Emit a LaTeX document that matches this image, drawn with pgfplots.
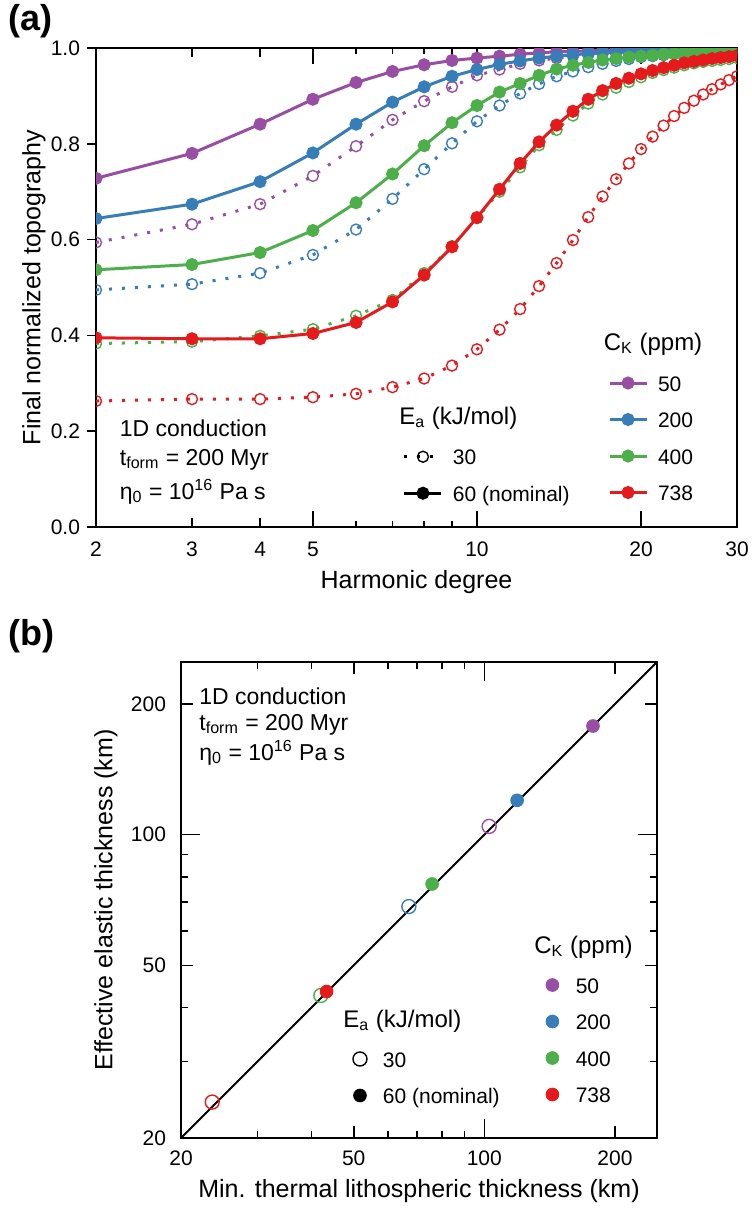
\documentclass[border=0pt]{standalone}
\usepackage{fontspec}
\setmainfont{Liberation Sans}
\usepackage{pgfplots}
\usepackage{pgfplotstable}
\pgfplotsset{compat=1.18}
\definecolor{cpur}{HTML}{984EA3}
\definecolor{cblu}{HTML}{377EB8}
\definecolor{cgrn}{HTML}{4DAF4A}
\definecolor{cred}{HTML}{E41A1C}
\pgfplotsset{
  dotS/.style={line width=1.5pt, dash pattern=on 1.5pt off 5pt, mark=o, mark size=2.75pt, mark options={solid, line width=0.7pt}},
  solS/.style={line width=1.5pt, mark=*, mark size=2.5pt, mark options={solid}},
  legS/.style={draw=none, fill=none, inner sep=0pt, outer sep=0pt, row sep=8.25pt, column sep=5pt, anchor=north west,
     font=\fontsize{10.5}{12}\selectfont, nodes={inner sep=0pt, text height=9pt, text depth=1pt}},
}
\pgfplotstableread{
l p30 p60 b30 b60 g30 g60 r30 r60
2 0.594 0.728 0.495 0.644 0.383 0.537 0.263 0.395
3 0.632 0.780 0.507 0.674 0.387 0.548 0.267 0.393
4 0.674 0.841 0.530 0.721 0.399 0.573 0.267 0.393
5 0.733 0.893 0.568 0.781 0.413 0.619 0.271 0.404
6 0.795 0.928 0.621 0.841 0.441 0.677 0.278 0.427
7 0.850 0.951 0.685 0.887 0.474 0.737 0.292 0.470
8 0.889 0.965 0.747 0.919 0.530 0.796 0.310 0.526
9 0.919 0.974 0.801 0.941 0.586 0.844 0.337 0.585
10 0.943 0.979 0.847 0.955 0.645 0.880 0.371 0.646
11 0.955 0.983 0.880 0.966 0.700 0.908 0.412 0.705
12 0.967 0.987 0.905 0.973 0.751 0.926 0.455 0.759
13 0.974 0.990 0.925 0.979 0.797 0.943 0.503 0.804
14 0.979 0.992 0.941 0.983 0.829 0.956 0.551 0.839
15 0.983 0.993 0.951 0.986 0.859 0.964 0.599 0.868
16 0.986 0.994 0.960 0.988 0.884 0.970 0.647 0.893
17 0.988 0.995 0.967 0.990 0.903 0.975 0.690 0.911
18 0.990 0.996 0.973 0.991 0.917 0.978 0.726 0.926
19 0.991 0.996 0.977 0.992 0.929 0.981 0.759 0.937
20 0.992 0.997 0.981 0.993 0.939 0.983 0.789 0.946
21 0.993 0.997 0.983 0.994 0.948 0.985 0.815 0.953
22 0.994 0.997 0.985 0.995 0.954 0.987 0.838 0.959
23 0.995 0.998 0.987 0.995 0.959 0.988 0.858 0.964
24 0.995 0.998 0.988 0.996 0.964 0.989 0.875 0.969
25 0.996 0.998 0.989 0.996 0.968 0.990 0.890 0.972
26 0.996 0.998 0.990 0.997 0.971 0.991 0.903 0.975
27 0.997 0.999 0.991 0.997 0.973 0.992 0.914 0.978
28 0.997 0.999 0.992 0.997 0.975 0.993 0.924 0.980
29 0.997 0.999 0.993 0.998 0.977 0.993 0.933 0.982
30 0.998 0.999 0.993 0.998 0.979 0.994 0.941 0.984
}\dataA
\begin{document}
\begin{tikzpicture}
\useasboundingbox (0pt,0pt) rectangle (375.5pt,-605.5pt);
% ---------------- panel (a)
\begin{axis}[
  at={(48pt,-263.5pt)}, anchor=south west, scale only axis,
  width=320.5pt, height=239.5pt,
  xmode=log, xmin=2, xmax=30, ymin=0, ymax=1,
  xtick={2,3,4,30}, xticklabels={2,3,4,30},
  extra x ticks={5,10,20}, extra x tick labels={5,10,20},
  extra x tick style={major tick length=8pt},
  minor xtick={6,7,8,9},
  ytick={0,0.2,0.4,0.6,0.8,1}, yticklabels={0.0,0.2,0.4,0.6,0.8,1.0},
  ytick pos=left,
  xtick align=inside, ytick align=outside,
  major tick length=4.5pt, minor tick length=3pt,
  major tick style={black, line width=0.8pt}, minor tick style={black, line width=0.8pt},
  axis line style={line width=1pt},
  tick label style={font=\fontsize{10.5}{12}\selectfont},
  xticklabel style={yshift=-4pt},
  label style={font=\fontsize{12.5}{14}\selectfont},
  xlabel={Harmonic degree}, ylabel={Final normalized topography},
  ylabel style={at={(axis description cs:-0.0967,0.5)}, anchor=center},
  clip marker paths=true,
  legend style={legS, at={(0.7988,0.3215)}},
  legend cell align=left,
  legend image code/.code={\draw[mark repeat=2,mark phase=2,#1] plot coordinates {(0pt,0pt) (9.25pt,0pt) (18.5pt,0pt)};},
]
\addplot[cpur, dotS, forget plot] table[x=l, y=p30] {\dataA};
\addplot[cblu, dotS, forget plot] table[x=l, y=b30] {\dataA};
\addplot[cgrn, dotS, forget plot] table[x=l, y=g30] {\dataA};
\addplot[cred, dotS, forget plot] table[x=l, y=r30] {\dataA};
\addplot[cpur, solS] table[x=l, y=p60] {\dataA};
\addlegendentry{50}
\addplot[cblu, solS] table[x=l, y=b60] {\dataA};
\addlegendentry{200}
\addplot[cgrn, solS] table[x=l, y=g60] {\dataA};
\addlegendentry{400}
\addplot[cred, solS] table[x=l, y=r60] {\dataA};
\addlegendentry{738}
\end{axis}
\begin{axis}[
  at={(48pt,-263.5pt)}, anchor=south west, scale only axis,
  width=320.5pt, height=239.5pt, hide axis,
  xmin=0, xmax=1, ymin=0, ymax=1,
  legend style={legS, at={(0.4789,0.1676)}},
  legend cell align=left,
  legend image code/.code={\draw[mark repeat=2,mark phase=2,#1] plot coordinates {(0pt,0pt) (9.25pt,0pt) (18.5pt,0pt)};},
]
\addlegendimage{black, dotS}
\addlegendentry{30}
\addlegendimage{black, solS}
\addlegendentry{60 (nominal)}
\end{axis}
\node[anchor=north west, inner sep=0pt, font=\bfseries\fontsize{18}{20}\selectfont] at (4pt,-2pt) {(a)};
\node[anchor=base west, inner sep=0pt, font=\fontsize{12}{14}\selectfont] at (301.75pt,-175pt) {C\textsubscript{K} (ppm)};
\node[anchor=base west, inner sep=0pt, font=\fontsize{12}{14}\selectfont] at (199.5pt,-212pt) {E\textsubscript{a} (kJ/mol)};
\node[anchor=base west, inner sep=0pt, font=\fontsize{11.5}{13}\selectfont] at (59.75pt,-218.3pt) {1D conduction};
\node[anchor=base west, inner sep=0pt, font=\fontsize{11.5}{13}\selectfont] at (59.75pt,-232.5pt) {t\textsubscript{form} = 200 Myr};
\node[anchor=base west, inner sep=0pt, font=\fontsize{11.5}{13}\selectfont] at (59.75pt,-249.5pt) {η\textsubscript{0} = 10\textsuperscript{16} Pa s};
% ---------------- panel (b)
\begin{axis}[
  at={(90.5pt,-569pt)}, anchor=south west, scale only axis,
  width=238pt, height=238pt,
  xmode=log, ymode=log, xmin=20, xmax=250, ymin=20, ymax=250,
  xtick={20,50,200}, xticklabels={20,50,200},
  extra x ticks={100}, extra x tick labels={100}, extra x tick style={major tick length=9.5pt},
  ytick={20,50,200}, yticklabels={20,50,200},
  extra y ticks={100}, extra y tick labels={100}, extra y tick style={major tick length=9.5pt},
  minor xtick={30,40,60,70,80,90}, minor ytick={30,40,60,70,80,90},
  tick align=inside, major tick length=6pt, minor tick length=3.5pt,
  major tick style={black, line width=0.8pt}, minor tick style={black, line width=0.8pt},
  axis line style={line width=1pt},
  tick label style={font=\fontsize{10.5}{12}\selectfont},
  xticklabel style={yshift=-3pt}, yticklabel style={xshift=-4pt},
  label style={font=\fontsize{12.5}{14}\selectfont},
  xlabel={Min. thermal lithospheric thickness (km)}, ylabel={Effective elastic thickness (km)},
  ylabel style={at={(axis description cs:-0.1576,0.5)}, anchor=center},
  legend style={legS, column sep=8.5pt, at={(0.7668,0.3424)}},
  legend cell align=left,
  legend image code/.code={\draw[#1] plot coordinates {(0pt,0pt)};},
]
\addplot[black, line width=1pt, forget plot] coordinates {(20,20) (250,250)};
\addplot[cpur, only marks, mark=o, mark size=3.5pt, line width=0.7pt, forget plot] coordinates {(102.6,104.5)};
\addplot[cblu, only marks, mark=o, mark size=3.5pt, line width=0.7pt, forget plot] coordinates {(67,68.3)};
\addplot[cgrn, only marks, mark=o, mark size=3.5pt, line width=0.7pt, forget plot] coordinates {(42,42.6)};
\addplot[cred, only marks, mark=o, mark size=3.5pt, line width=0.7pt, forget plot] coordinates {(23.6,24.2)};
\addplot[cpur, only marks, mark=*, mark size=3.2pt] coordinates {(178,178)};
\addlegendentry{50}
\addplot[cblu, only marks, mark=*, mark size=3.2pt] coordinates {(119,120)};
\addlegendentry{200}
\addplot[cgrn, only marks, mark=*, mark size=3.2pt] coordinates {(75.8,77)};
\addlegendentry{400}
\addplot[cred, only marks, mark=*, mark size=3.2pt] coordinates {(43.3,43.5)};
\addlegendentry{738}
\end{axis}
\begin{axis}[
  at={(90.5pt,-569pt)}, anchor=south west, scale only axis,
  width=238pt, height=238pt, hide axis,
  xmin=0, xmax=1, ymin=0, ymax=1,
  legend style={legS, column sep=8pt, at={(0.3613,0.187)}},
  legend cell align=left,
  legend image code/.code={\draw[#1] plot coordinates {(0pt,0pt)};},
]
\addlegendimage{black, only marks, mark=o, mark size=3.5pt, line width=0.7pt}
\addlegendentry{30}
\addlegendimage{black, only marks, mark=*, mark size=3.2pt}
\addlegendentry{60 (nominal)}
\end{axis}
\node[anchor=north west, inner sep=0pt, font=\bfseries\fontsize{18}{20}\selectfont] at (4pt,-309.5pt) {(b)};
\node[anchor=base west, inner sep=0pt, font=\fontsize{12}{14}\selectfont] at (267pt,-476.5pt) {C\textsubscript{K} (ppm)};
\node[anchor=base west, inner sep=0pt, font=\fontsize{12}{14}\selectfont] at (171.5pt,-513.5pt) {E\textsubscript{a} (kJ/mol)};
\node[anchor=base west, inner sep=0pt, font=\fontsize{11.5}{13}\selectfont] at (99.5pt,-352pt) {1D conduction};
\node[anchor=base west, inner sep=0pt, font=\fontsize{11.5}{13}\selectfont] at (99.5pt,-365pt) {t\textsubscript{form} = 200 Myr};
\node[anchor=base west, inner sep=0pt, font=\fontsize{11.5}{13}\selectfont] at (99.5pt,-380pt) {η\textsubscript{0} = 10\textsuperscript{16} Pa s};
\end{tikzpicture}
\end{document}
